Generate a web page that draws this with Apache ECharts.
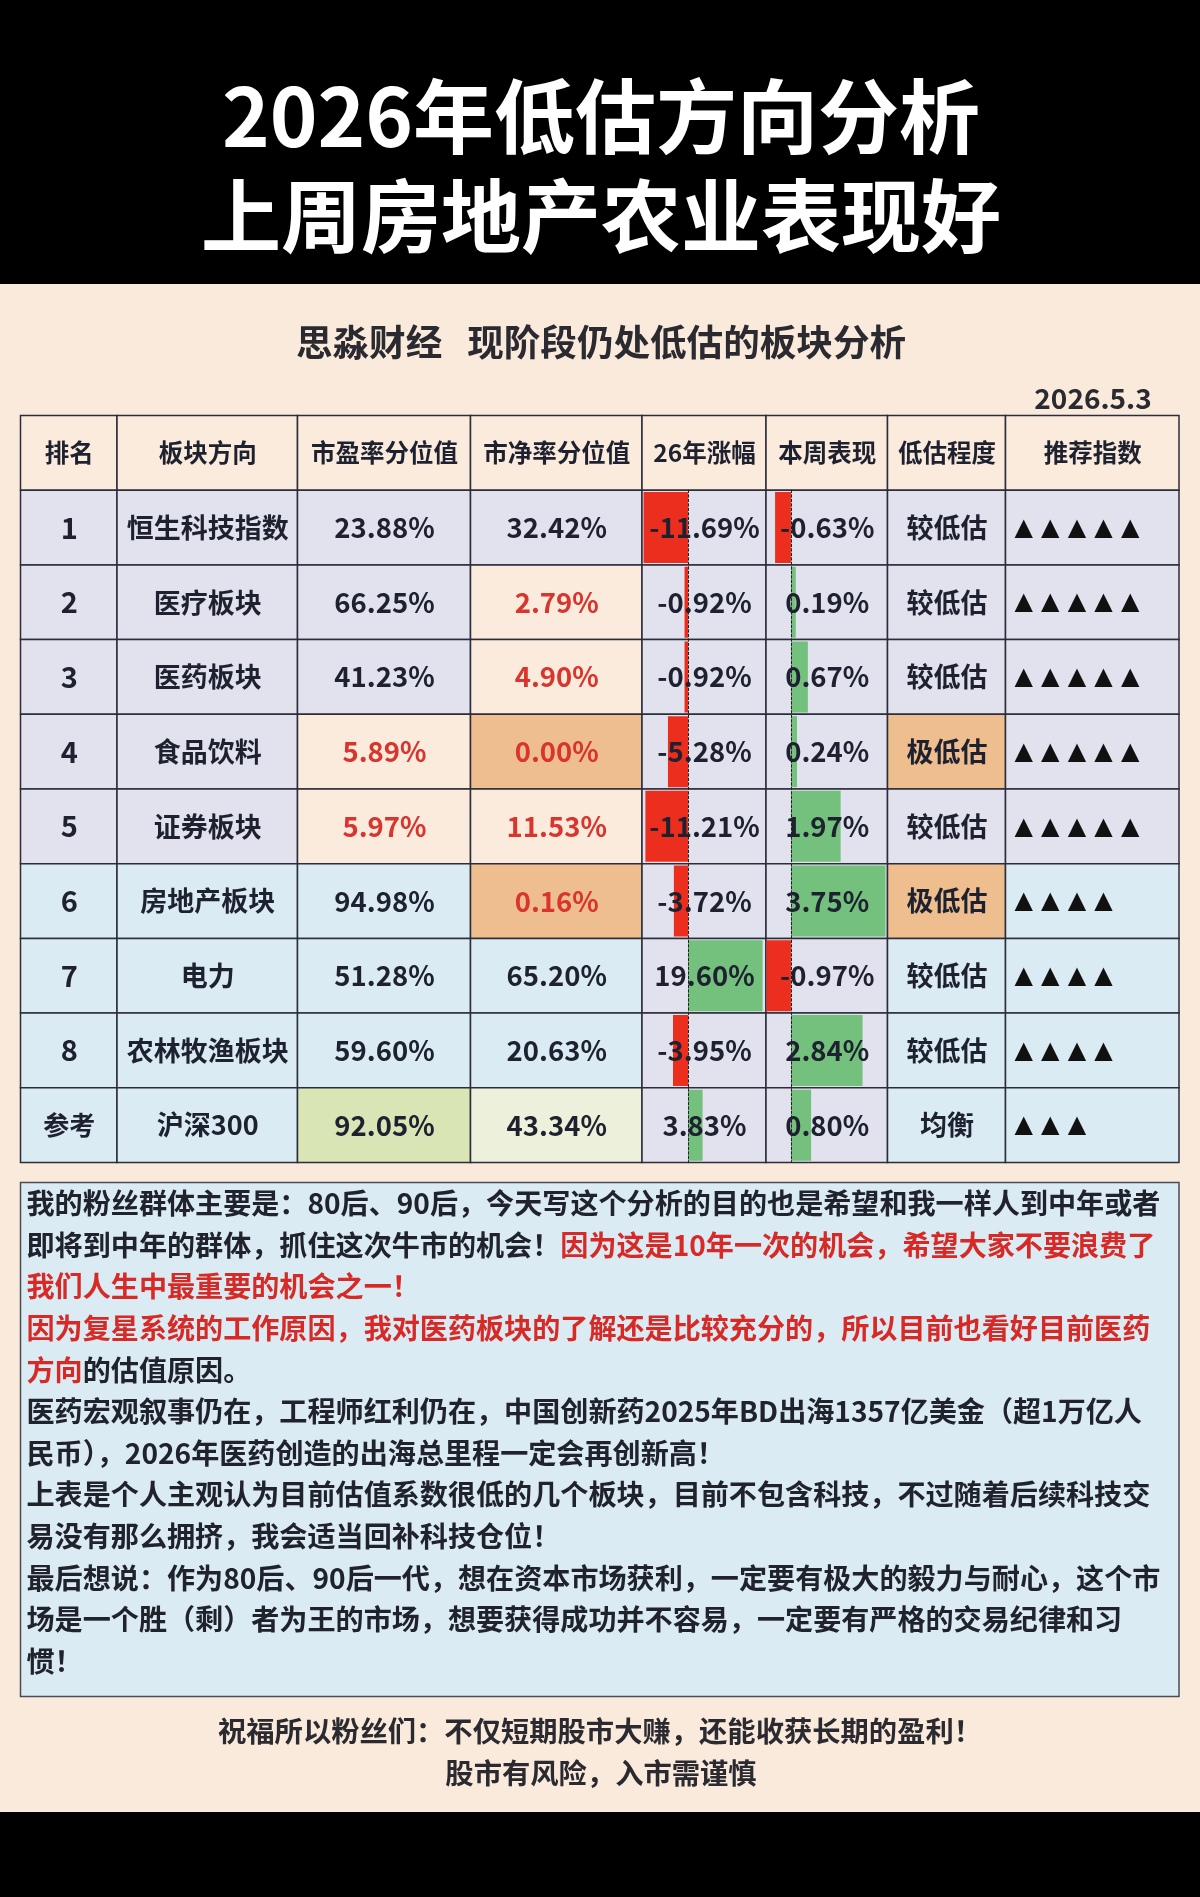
<!DOCTYPE html>
<html><head><meta charset="utf-8">
<style>html,body{margin:0;padding:0;background:#000}#c{width:1200px;height:1897px}</style>
<script src="https://cdn.jsdelivr.net/npm/echarts@6/dist/echarts.min.js"></script>
</head><body><div id="c"></div>
<script>
const titleLines = ['2026年低估方向分析', '上周房地产农业表现好'];
const subtitle = '思淼财经   现阶段仍处低估的板块分析';
const dateLabel = '2026.5.3';
const headers = ['排名','板块方向','市盈率分位值','市净率分位值','26年涨幅','本周表现','低估程度','推荐指数'];
const ranks = ['1','2','3','4','5','6','7','8','参考'];
const sectors = ['恒生科技指数','医疗板块','医药板块','食品饮料','证券板块','房地产板块','电力','农林牧渔板块','沪深300'];
const pePct = [23.88,66.25,41.23,5.89,5.97,94.98,51.28,59.60,92.05];
const pbPct = [32.42,2.79,4.90,0.00,11.53,0.16,65.20,20.63,43.34];
const ytdGain = [-11.69,-0.92,-0.92,-5.28,-11.21,-3.72,19.60,-3.95,3.83];
const weekGain = [-0.63,0.19,0.67,0.24,1.97,3.75,-0.97,2.84,0.80];
const valuation = ['较低估','较低估','较低估','极低估','较低估','极低估','较低估','较低估','均衡'];
const stars = [5,5,5,5,5,4,4,4,3];
const noteLines = [
 [['k','我的粉丝群体主要是\uFF1A80后、90后\uFF0C今天写这个分析的目的也是希望和我一样人到中年或者']],
 [['k','即将到中年的群体\uFF0C抓住这次牛市的机会\uFF01'],['r','因为这是10年一次的机会\uFF0C希望大家不要浪费了']],
 [['r','我们人生中最重要的机会之一\uFF01']],
 [['r','因为复星系统的工作原因\uFF0C我对医药板块的了解还是比较充分的\uFF0C所以目前也看好目前医药']],
 [['r','方向'],['k','的估值原因。']],
 [['k','医药宏观叙事仍在\uFF0C工程师红利仍在\uFF0C中国创新药2025年BD出海1357亿美金\uFF08超1万亿人']],
 [['k','民币\uFF09\uFF0C2026年医药创造的出海总里程一定会再创新高\uFF01']],
 [['k','上表是个人主观认为目前估值系数很低的几个板块\uFF0C目前不包含科技\uFF0C不过随着后续科技交']],
 [['k','易没有那么拥挤\uFF0C我会适当回补科技仓位\uFF01']],
 [['k','最后想说\uFF1A作为80后、90后一代\uFF0C想在资本市场获利\uFF0C一定要有极大的毅力与耐心\uFF0C这个市']],
 [['k','场是一个胜\uFF08剩\uFF09者为王的市场\uFF0C想要获得成功并不容易\uFF0C一定要有严格的交易纪律和习']],
 [['k','惯\uFF01']]
];
const footerLines = ['祝福所以粉丝们\uFF1A不仅短期股市大赚\uFF0C还能收获长期的盈利\uFF01','股市有风险\uFF0C入市需谨慎'];

// ---- layout & style
const FONT = "'Noto Sans CJK SC'";
const INK = '#1E2230', RED = '#D8352F';
const PEACH='#FBEBDC', LAV='#E2E1EE', BLUE='#DAEBF3', ORANGE='#EFBE8E', LIME='#D9E5B4', PALE='#EDF1DC';
const T = {left:20.5, top:415.5, right:1179, bottom:1162.5};
const colEdges = [0,96.5,277,450,621.5,745.5,867,985,1158.5]; // table-axis units
const rowKeys = ['h'].concat(ranks);

function rowFill(r){ return r < 5 ? LAV : BLUE; }
function cellFill(c, r){
  if (c === 4 || c === 5) return LAV;
  if (c === 2){ if (r===3||r===4) return PEACH; if (r===8) return LIME; }
  if (c === 3){
    if (r===3||r===5) return ORANGE;
    if (r===1||r===2||r===4) return PEACH;
    if (r===8) return PALE;
  }
  if (c === 6 && (r===3||r===5)) return ORANGE;
  return rowFill(r);
}
const pct = v => v.toFixed(2) + '%';
const isLow = v => v < 15;

const cells = [];
headers.forEach((h,c)=>cells.push({c, r:0, t:h, fill:PEACH, color:INK, size:24.5, weight:700}));
ranks.forEach((_,r)=>{
  const row=r+1;
  const add=(c,t,color,size)=>cells.push({c,r:row,t,fill:cellFill(c,r),color:color||INK,size:size||27,weight:700});
  add(0,ranks[r],INK,r===8?26:29);
  add(1,sectors[r]);
  add(2,pct(pePct[r]),isLow(pePct[r])?RED:INK,27.5);
  add(3,pct(pbPct[r]),isLow(pbPct[r])?RED:INK,27.5);
  add(4,pct(ytdGain[r]),INK,27.5);
  add(5,pct(weekGain[r]),INK,27.5);
  add(6,valuation[r]);
  cells.push({c:7,r:row,t:'',stars:stars[r],fill:cellFill(7,r)});
});

function cellBox(api,c,r){
  const p0=api.coord([colEdges[c],r]), p1=api.coord([colEdges[c+1],r]);
  const h=api.size([0,1])[1];
  return {x:p0[0],y:p0[1]-h/2,width:p1[0]-p0[0],height:h};
}
function renderBg(params,api){
  const d=cells[params.dataIndex];
  return {type:'rect',shape:cellBox(api,d.c,d.r),
    style:{fill:d.fill,stroke:'#2B2D3A',lineWidth:1.5}};
}
function renderText(params,api){
  const d=cells[params.dataIndex], b=cellBox(api,d.c,d.r);
  if(d.stars){
    const kids=[];
    for(let i=0;i<d.stars;i++){
      kids.push({type:'text',style:{text:'▲',x:b.x+9+i*26.6,y:b.y+b.height/2+1,
        font:"24px 'DejaVu Sans'",fill:'#111',verticalAlign:'middle'}});
    }
    return {type:'group',children:kids};
  }
  return {type:'text',style:{text:d.t,x:b.x+b.width/2+0.5,y:b.y+b.height/2,align:'center',verticalAlign:'middle',
    font:d.weight+' '+d.size+'px '+FONT,fill:d.color}};
}
const cellData=cells.map(d=>[colEdges[d.c],d.r]);

function barSeries(vals,idx){
  return {type:'bar',xAxisIndex:idx,yAxisIndex:idx,barWidth:71,z:2,silent:true,
    data:vals.map(v=>({value:v,itemStyle:{color:v<0?'#EC2E1E':'#74C07D'}}))};
}
function barAxes(idx,left,right,min,max){
  return {
    grid:{left,top:T.top+(T.bottom-T.top)/10,width:right-left,height:(T.bottom-T.top)*0.9,containLabel:false},
    x:{type:'value',gridIndex:idx,min,max,show:false},
    y:{type:'category',gridIndex:idx,data:ranks,inverse:true,z:3,
       axisLine:{show:true,onZero:true,lineStyle:{color:'#222',width:1,type:[2.5,2]}},
       axisTick:{show:false},axisLabel:{show:false},splitLine:{show:false}}
  };
}
const a1=barAxes(1,642,766,-12.1,20.5), a2=barAxes(2,766,887,-0.99,3.81);

const noteRich={k:{font:'700 28.1px '+FONT,fill:'#20222C'},r:{font:'700 28.1px '+FONT,fill:'#D72A26'}};
const graphics=[
  {type:'rect',shape:{x:0,y:0,width:1200,height:284},style:{fill:'#000'}},
  {type:'rect',shape:{x:0,y:1812,width:1200,height:85},style:{fill:'#000'}},
  {type:'rect',shape:{x:20.5,y:1182.5,width:1158.5,height:514},style:{fill:BLUE,stroke:'#4A4C55',lineWidth:1.5}},
  {type:'text',style:{text:titleLines[0],x:601,y:116,align:'center',verticalAlign:'middle',font:'700 81px '+FONT,fill:'#fff'}},
  {type:'text',style:{text:titleLines[1],x:601,y:216,align:'center',verticalAlign:'middle',font:'700 80px '+FONT,fill:'#fff'}},
  {type:'text',style:{text:subtitle,x:601,y:342,align:'center',verticalAlign:'middle',font:'700 36.6px '+FONT,fill:'#2A2A30'}},
  {type:'text',style:{text:dateLabel,x:1093,y:398,align:'center',verticalAlign:'middle',font:'700 28px '+FONT,fill:'#2A2A30'}}
];
noteLines.forEach((segs,i)=>{
  graphics.push({type:'text',style:{
    text:segs.map(s=>'{'+s[0]+'|'+s[1]+'}').join(''),
    x:26.5,y:1203.5+i*41.6,verticalAlign:'middle',rich:noteRich}});
});
footerLines.forEach((t,i)=>{
  graphics.push({type:'text',style:{text:t,x:i?601:600,y:1731+i*42,align:'center',verticalAlign:'middle',
    font:'700 28.3px '+FONT,fill:'#2A2A30'}});
});

const chart=echarts.init(document.getElementById('c'),null,{width:1200,height:1897});
chart.setOption({
  animation:false,
  backgroundColor:'#F9EADC',
  graphic:{elements:graphics},
  grid:[{left:T.left,top:T.top,width:T.right-T.left,height:T.bottom-T.top},a1.grid,a2.grid],
  xAxis:[{type:'value',gridIndex:0,min:0,max:T.right-T.left,show:false},a1.x,a2.x],
  yAxis:[{type:'category',gridIndex:0,data:rowKeys,inverse:true,show:false},a1.y,a2.y],
  series:[
    {type:'custom',coordinateSystem:'cartesian2d',xAxisIndex:0,yAxisIndex:0,z:1,silent:true,clip:false,renderItem:renderBg,data:cellData},
    barSeries(ytdGain,1),
    barSeries(weekGain,2),
    {type:'custom',coordinateSystem:'cartesian2d',xAxisIndex:0,yAxisIndex:0,z:4,silent:true,clip:false,renderItem:renderText,data:cellData}
  ]
});
</script></body></html>
